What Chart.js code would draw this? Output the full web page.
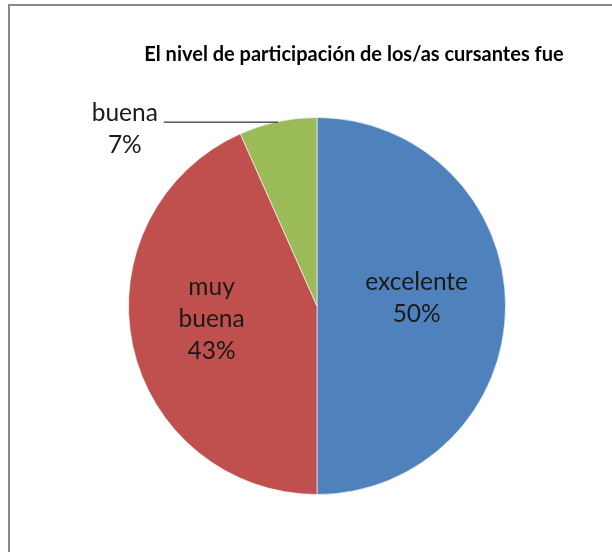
<!DOCTYPE html>
<html>
<head>
<meta charset="utf-8">
<script src="https://cdn.jsdelivr.net/npm/chart.js@4.4.1/dist/chart.umd.min.js"></script>
<style>
  body { margin: 0; background: #fff; }
  canvas { display: block; }
</style>
</head>
<body>
<canvas id="pieChart" width="612" height="552"></canvas>
<script>
// Data
const chartTitle = 'El nivel de participación de los/as cursantes fue';
const categories = ['excelente', 'muy\nbuena', 'buena'];
const counts = [15, 13, 2];
const sliceColors = ['#4F81BD', '#C0504D', '#9BBB59'];

const total = counts.reduce((a, b) => a + b, 0);

// Frame + title
const framePlugin = {
    id: 'frame',
    beforeDraw(chart) {
        const ctx = chart.ctx;
        ctx.save();
        ctx.fillStyle = '#fff';
        ctx.fillRect(0, 0, chart.width, chart.height);
        ctx.strokeStyle = '#888';
        ctx.lineWidth = 2;
        ctx.beginPath();
        ctx.moveTo(9, chart.height + 5);
        ctx.lineTo(9, 5);
        ctx.lineTo(chart.width + 5, 5);
        ctx.stroke();

        ctx.fillStyle = '#000';
        ctx.font = 'bold 20px Lato, "Open Sans", sans-serif';
        ctx.textAlign = 'center';
        ctx.textBaseline = 'middle';
        ctx.fillText(chartTitle, 354, 55);
        ctx.restore();
    }
};

// Slice labels (inside, or outside with a leader line for small slices)
const labelPlugin = {
    id: 'sliceLabels',
    afterDatasetsDraw(chart) {
        const ctx = chart.ctx;
        const meta = chart.getDatasetMeta(0);
        ctx.save();
        ctx.font = '24.5px Lato, "Open Sans", sans-serif';
        ctx.fillStyle = '#1a1a1a';
        ctx.textAlign = 'center';
        ctx.textBaseline = 'middle';
        const lineH = 32;
        meta.data.forEach((arc, i) => {
            const p = arc.getProps(['x', 'y', 'startAngle', 'endAngle', 'outerRadius'], true);
            const mid = (p.startAngle + p.endAngle) / 2;
            const pct = Math.round(counts[i] / total * 100) + '%';
            const lines = categories[i].split('\n').concat([pct]);
            if (counts[i] / total < 0.1) {
                const ex = p.x + Math.cos(mid) * p.outerRadius;
                const ey = p.y + Math.sin(mid) * p.outerRadius;
                const lx = ex - 114;
                ctx.strokeStyle = '#000';
                ctx.lineWidth = 1;
                ctx.beginPath();
                ctx.moveTo(ex, ey + 0.5);
                ctx.lineTo(lx, ey + 0.5);
                ctx.stroke();
                lines.forEach((t, k) => ctx.fillText(t, lx - 39, ey - 9 + k * lineH));
            } else {
                const cx = p.x + Math.cos(mid) * p.outerRadius * 0.55 - 4;
                const cy = p.y + Math.sin(mid) * p.outerRadius * 0.55 - 8;
                const y0 = cy - (lines.length - 1) * lineH / 2;
                lines.forEach((t, k) => ctx.fillText(t, cx, y0 + k * lineH));
            }
        });
        ctx.restore();
    }
};

const ctxPie = document.getElementById('pieChart').getContext('2d');
new Chart(ctxPie, {
    type: 'pie',
    data: {
        labels: categories.map(c => c.replace('\n', ' ')),
        datasets: [{
            data: counts,
            backgroundColor: sliceColors,
            borderColor: 'rgba(255,255,255,0.6)',
            borderWidth: 1
        }]
    },
    options: {
        responsive: false,
        animation: false,
        layout: { padding: { left: 128, right: 106, top: 117, bottom: 57 } },
        plugins: {
            legend: { display: false },
            tooltip: { enabled: false },
            title: { display: false }
        }
    },
    plugins: [framePlugin, labelPlugin]
});
</script>
</body>
</html>
